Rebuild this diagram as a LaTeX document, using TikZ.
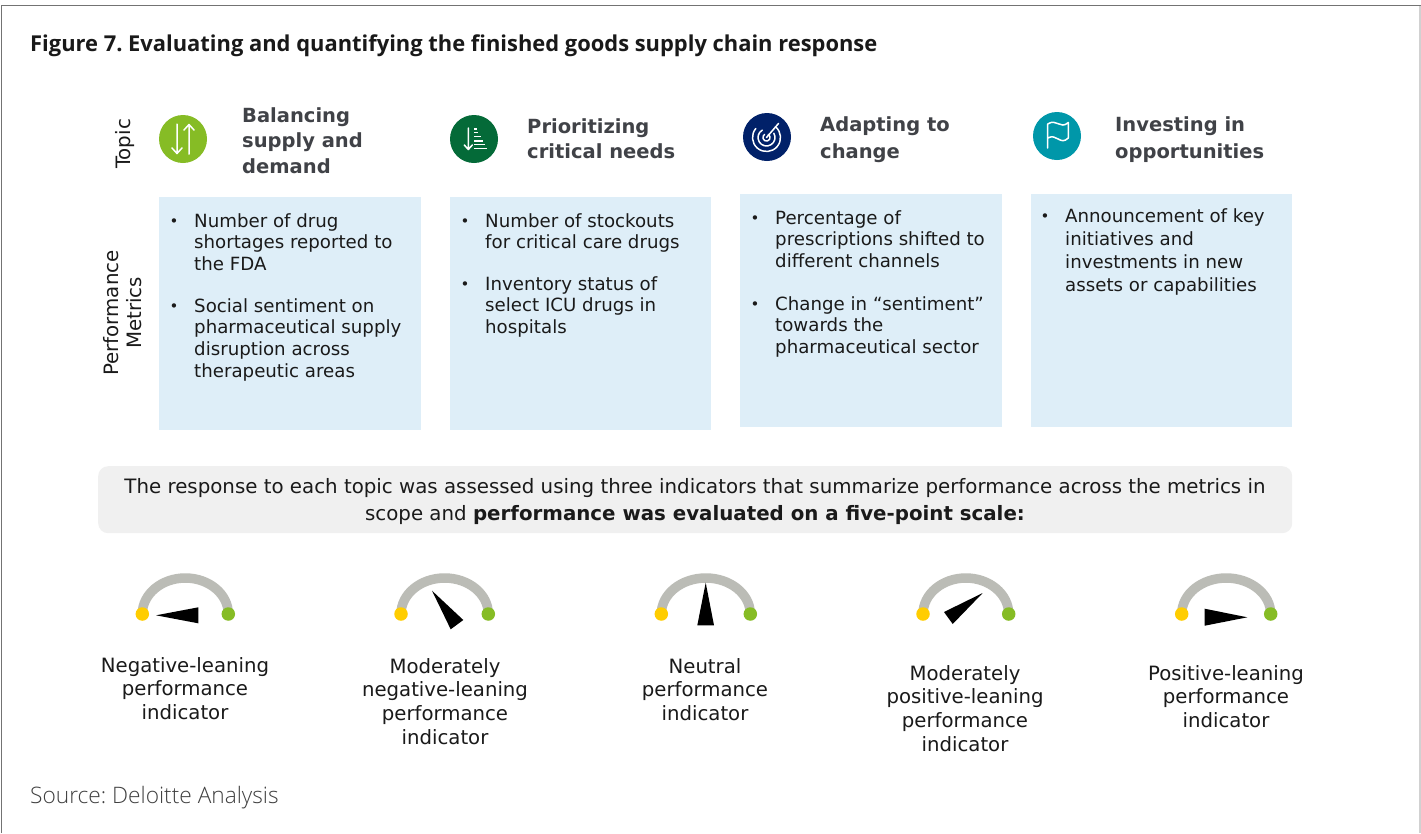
\documentclass[tikz,border=0pt]{standalone}
\usepackage{fontspec}
\setmainfont{DejaVu Sans}
\newfontfamily\opensans{Open Sans}
\newfontfamily\opensanslight{Open Sans Light}
\definecolor{boxblue}{HTML}{DEEEF8}
\definecolor{headgray}{HTML}{404247}
\definecolor{bodytxt}{HTML}{1A1A1A}
\definecolor{lime}{HTML}{86BC25}
\definecolor{forest}{HTML}{046A38}
\definecolor{navy}{HTML}{012169}
\definecolor{teal}{HTML}{0097A9}
\definecolor{arcgray}{HTML}{BBBCB6}
\definecolor{yel}{HTML}{FFCD00}
\definecolor{panel}{HTML}{F0F0F0}
\tikzset{
 metricbox/.style={fill=boxblue,draw=none,inner sep=0pt,anchor=north west},
 headtxt/.style={anchor=north west,align=left,font=\fontsize{19.5}{25.5}\selectfont\bfseries,text=headgray,inner sep=0pt},
 bul/.style={anchor=north west,align=left,font=\fontsize{18.2}{21.7}\selectfont,text=bodytxt,inner sep=0pt},
 bdot/.style={anchor=base,inner sep=0pt,font=\fontsize{15}{15}\selectfont,text=bodytxt},
 lab/.style={anchor=north,align=center,font=\fontsize{19.7}{23.7}\selectfont,text=bodytxt,inner sep=0pt},
 sidelab/.style={rotate=90,align=center,font=\fontsize{19.8}{22.8}\selectfont,text=bodytxt,inner sep=0pt},
 badge/.style={circle,fill=#1,minimum size=48pt,inner sep=0pt},
 icon/.style={draw=white,line width=1.5pt,line cap=round,line join=round},
 gaugearc/.style={draw=arcgray,line width=9.5pt},
 ydot/.style={circle,fill=yel,minimum size=13.5pt,inner sep=0pt},
 gdot/.style={circle,fill=lime,minimum size=13.5pt,inner sep=0pt},
}
\newcommand{\gaugedraw}[3]{%
 \draw[gaugearc] (#1) arc[start angle=180,end angle=0,x radius=#3pt,y radius=36pt];
 \node[ydot] (#1d) at (#1) {};
 \node[gdot] (#2d) at (#2) {};
}
\begin{document}
\frenchspacing
\begin{tikzpicture}[x=1pt,y=-1pt]
\useasboundingbox (0,0) rectangle (1421,833);
\fill[white] (0,0) rectangle (1421,833);
\draw[black!55,line width=1.2pt] (1.2,833) -- (1.2,5.5) -- (1421,5.5);
\draw[black!18,line width=1.2pt] (1420,5.5) -- (1420,833);
\node[anchor=base west,inner sep=0pt,font=\opensans\bfseries\fontsize{21.9}{25}\selectfont,text=black!90] (title) at (30,51) {Figure 7. Evaluating and quantifying the finished goods supply chain response};
\node[sidelab] (topic) at (125.5,144) {Topic};
\node[sidelab] (perf) at (122.5,313) {Performance\\Metrics};
% icons
\node[badge=lime] (i1) at (183,139) {};
\node[badge=forest] (i2) at (474,139) {};
\node[badge=navy] (i3) at (767,137) {};
\node[badge=teal] (i4) at (1057,136) {};
% icon 1
\draw[icon] (177,124) -- (177,153) (172,148) -- (177,153.5) -- (182,148);
\draw[icon] (189,154) -- (189,125) (184,130) -- (189,124.5) -- (194,130);
% icon 2
\draw[icon] (468.3,128) -- (468.3,149) (464.3,145) -- (468.3,149.5) -- (472.3,145);
\draw[icon,line cap=butt] (474.3,129) -- (476.7,129) (474.3,132.7) -- (478.3,132.7) (474.3,136.7) -- (480.7,136.7) (474.3,141) -- (482.7,141) (474.3,144.7) -- (484.7,144.7) (474.3,148.3) -- (486.7,148.3);
% icon 3
\coordinate (rc) at (766.5,137.5);
\draw[icon] ([shift={(50:14pt)}]rc) arc[start angle=50,delta angle=-270,radius=14pt];
\draw[icon] ([shift={(30:8.5pt)}]rc) arc[start angle=30,delta angle=-270,radius=8.5pt];
\draw[icon] ([shift={(60:3.6pt)}]rc) arc[start angle=60,delta angle=-300,radius=3.6pt];
\draw[icon] (rc) -- (778.5,123.5);
% icon 4
\draw[icon] (1047.7,148) -- (1047.7,124) .. controls (1057,118) and (1060,130) .. (1068.3,122.5) -- (1068.3,138) .. controls (1060,146) and (1057,133) .. (1047.7,138);
% headings
\node[headtxt] (h1) at (242,107) {Balancing\\supply and\\demand};
\node[headtxt] (h2) at (527,118) {Prioritizing\\critical needs};
\node[headtxt,font=\fontsize{19.5}{27}\selectfont\bfseries] (h3) at (820,116) {Adapting to\\change};
\node[headtxt,font=\fontsize{19.5}{27}\selectfont\bfseries] (h4) at (1115,116) {Investing in\\opportunities};
% boxes
\node[metricbox,minimum width=262pt,minimum height=233pt] (b1) at (159,197) {};
\node[metricbox,minimum width=261pt,minimum height=233pt] (b2) at (450,197) {};
\node[metricbox,minimum width=262pt,minimum height=233pt] (b3) at (740,194) {};
\node[metricbox,minimum width=261pt,minimum height=233pt] (b4) at (1031,194) {};
% bullets
\node[bdot] (d11) at (174,226) {•};
\node[bul] (t11) at (194,213) {Number of drug\\shortages reported to\\the FDA};
\node[bdot] (d12) at (174,311) {•};
\node[bul] (t12) at (194,298) {Social sentiment on\\pharmaceutical supply\\disruption across\\therapeutic areas};
\node[bdot] (d21) at (465,226) {•};
\node[bul] (t21) at (485,213) {Number of stockouts\\for critical care drugs};
\node[bdot] (d22) at (465,289) {•};
\node[bul] (t22) at (485,276) {Inventory status of\\select ICU drugs in\\hospitals};
\node[bdot] (d31) at (755,223) {•};
\node[bul] (t31) at (775,210) {Percentage of\\prescriptions shifted to\\different channels};
\node[bdot] (d32) at (755,309) {•};
\node[bul] (t32) at (775,296) {Change in “sentiment”\\towards the\\pharmaceutical sector};
\node[bdot] (d41) at (1045,221) {•};
\node[bul,font=\fontsize{18.2}{23}\selectfont] (t41) at (1065,208) {Announcement of key\\initiatives and\\investments in new\\assets or capabilities};
% panel
\node[fill=panel,rounded corners=10pt,minimum width=1194pt,minimum height=67pt,inner sep=0pt,anchor=north west] (panel) at (98,466) {};
\node[anchor=center,align=center,inner sep=0pt,font=\fontsize{19.8}{26.5}\selectfont,text=bodytxt] (ptext) at (695,501.5) {The response to each topic was assessed using three indicators that summarize performance across the metrics in\\scope and \textbf{performance was evaluated on a five-point scale:}};
% gauges
\coordinate (ya) at (142.3,614); \coordinate (ga) at (228.3,614);
\coordinate (yb) at (401,614);   \coordinate (gb) at (488.3,614);
\coordinate (yc) at (661.3,614); \coordinate (gc) at (750.3,614);
\coordinate (yd) at (923,614);   \coordinate (gd) at (1008.7,614);
\coordinate (ye) at (1181.7,614);\coordinate (ge) at (1270.7,614);
\gaugedraw{ya}{ga}{43}
\gaugedraw{yb}{gb}{43.65}
\gaugedraw{yc}{gc}{44.5}
\gaugedraw{yd}{gd}{42.85}
\gaugedraw{ye}{ge}{44.5}
\fill[black] (156,615.3) -- (198.3,607.3) -- (198.3,623.3) -- cycle;
\fill[black] (432,590.7) -- (463.3,620) -- (450.7,629.3) -- cycle;
\fill[black] (705.7,582.7) -- (714,625.3) -- (697.3,625.3) -- cycle;
\fill[black] (982.7,593) -- (944,612) -- (952.7,624) -- cycle;
\fill[black] (1247.3,617.3) -- (1204.7,608.7) -- (1204.7,625.7) -- cycle;
% labels
\node[lab] (la) at (185,657) {Negative-leaning\\performance\\indicator};
\node[lab] (lb) at (445,658) {Moderately\\negative-leaning\\performance\\indicator};
\node[lab] (lc) at (705,658) {Neutral\\performance\\indicator};
\node[lab] (ld) at (965,665) {Moderately\\positive-leaning\\performance\\indicator};
\node[lab] (le) at (1226,665) {Positive-leaning\\performance\\indicator};
\node[anchor=base west,inner sep=0pt,font=\opensanslight\fontsize{22.7}{26}\selectfont,text=black!75] (src) at (30,803) {Source: Deloitte Analysis};
\end{tikzpicture}
\end{document}
